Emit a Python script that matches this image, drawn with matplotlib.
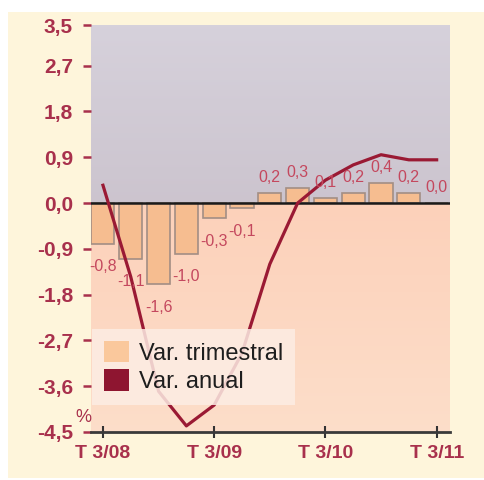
import numpy as np
import matplotlib
matplotlib.use('Agg')
import matplotlib.pyplot as plt
from matplotlib.patches import Patch, Rectangle

# quarterly series, Q3 2008 .. Q3 2011
quarters = ['T 3/08', 'T 4/08', 'T 1/09', 'T 2/09', 'T 3/09', 'T 4/09', 'T 1/10',
            'T 2/10', 'T 3/10', 'T 4/10', 'T 1/11', 'T 2/11', 'T 3/11']
var_trimestral = [-0.8, -1.1, -1.6, -1.0, -0.3, -0.1, 0.2, 0.3, 0.1, 0.2, 0.4, 0.2, 0.0]
var_anual = [0.35, -1.45, -3.7, -4.38, -3.97, -2.95, -1.2, 0.0, 0.45, 0.75, 0.95, 0.85, 0.85]
y_ticks = [3.5, 2.7, 1.8, 0.9, 0.0, -0.9, -1.8, -2.7, -3.6, -4.5]

RED = '#A8304C'
LABEL_RED = '#C4485E'
LINE = '#9A1A34'
BAR = '#F6BD90'
CREAM = '#FEF5DB'

plt.rcParams['font.family'] = ['Liberation Sans', 'DejaVu Sans']

fig = plt.figure(figsize=(4.84, 4.80), dpi=100)
fig.patch.set_facecolor('white')
fig.patches.append(Rectangle((8 / 484, 2 / 480), 1 - 8 / 484, 466 / 480,
                             transform=fig.transFigure, facecolor=CREAM,
                             edgecolor='none', zorder=-10))

ax = fig.add_axes([91 / 484, 48 / 480, 359 / 484, 407 / 480])
ax.set_facecolor('none')
x = np.arange(len(quarters))
xmin, xmax = -0.43, 12.48
ax.set_xlim(xmin, xmax)
ax.set_ylim(-4.5, 3.5)

# shaded backgrounds above and below zero
ramp = np.linspace(0, 1, 64).reshape(-1, 1, 1)
top_c = np.array([0.84, 0.82, 0.86])
bot_c = np.array([0.80, 0.77, 0.81])
ax.imshow(top_c * (1 - ramp) + bot_c * ramp, extent=(xmin, xmax, 0, 3.5),
          aspect='auto', zorder=0)
near_c = np.array([0.99, 0.82, 0.73])
far_c = np.array([0.99, 0.87, 0.79])
ax.imshow(near_c * (1 - ramp) + far_c * ramp, extent=(xmin, xmax, -4.5, 0),
          aspect='auto', zorder=0)

ax.bar(x, var_trimestral, width=0.83, color=BAR, edgecolor='#A38E84',
       linewidth=1.2, zorder=2)
ax.axhline(0, color='#1a1a1a', lw=1.8, zorder=3)
ax.plot(x, var_anual, color=LINE, lw=2.3, zorder=4, solid_joinstyle='round')

for xi, v in zip(x, var_trimestral):
    txt = f'{v:.1f}'.replace('.', ',')
    off = -16.5 if v < 0 else 11
    ax.annotate(txt, (xi, v), xytext=(0, off), textcoords='offset points',
                ha='center', va='center', fontsize=11.5, color=LABEL_RED, zorder=5)

ax.set_yticks(y_ticks)
ax.set_yticklabels([f'{t:.1f}'.replace('.', ',') for t in y_ticks],
                   fontsize=15, fontweight='bold', color=RED)
ax.tick_params(axis='y', length=6, width=1.8, color=RED, pad=7)

ax.set_xticks(x[::4])
ax.set_xticklabels(quarters[::4], fontsize=14, fontweight='bold', color=RED)
ax.tick_params(axis='x', direction='inout', length=8, width=1.5,
               color='#333333', pad=5)

for s in ['top', 'right', 'left']:
    ax.spines[s].set_visible(False)
ax.spines['bottom'].set_color('#3a3a3a')
ax.spines['bottom'].set_linewidth(2)

ax.text(-0.02, 0.035, '%', transform=ax.transAxes, fontsize=13,
        color=RED, ha='center', va='center')

handles = [Patch(facecolor='#FAC89C', edgecolor='none', label='Var. trimestral'),
           Patch(facecolor='#8E1530', edgecolor='none', label='Var. anual')]
leg = ax.legend(handles=handles, loc='lower left', bbox_to_anchor=(0.003, 0.066),
                borderaxespad=0, fontsize=17, frameon=True, fancybox=False,
                handlelength=1.05, handleheight=1.05, handletextpad=0.45,
                labelspacing=0.2, borderpad=0.5)
leg.get_frame().set_facecolor('#FDEDE4')
leg.get_frame().set_edgecolor('none')
leg.get_frame().set_alpha(0.85)
for t in leg.get_texts():
    t.set_color('#1e1e1e')

fig.savefig('out.png', dpi=100)
